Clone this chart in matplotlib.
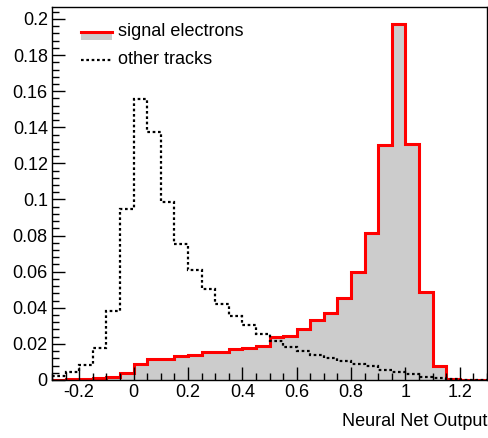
import numpy as np
import matplotlib
matplotlib.use("Agg")
import matplotlib.pyplot as plt
from matplotlib.patches import Rectangle
from matplotlib.lines import Line2D
from matplotlib.ticker import MultipleLocator

plt.rcParams['font.family'] = ['Liberation Sans', 'DejaVu Sans']

# ---- data ----
bin_edges = np.round(np.arange(-0.3, 1.3001, 0.05), 3)
signal_electrons = [0.0001, 0.0004, 0.0004, 0.0009, 0.0018, 0.0041,
                    0.0086, 0.0118, 0.0116, 0.0132, 0.0139, 0.0154,
                    0.0157, 0.0173, 0.0178, 0.0189, 0.0238, 0.0245,
                    0.0284, 0.0333, 0.0370, 0.0453, 0.0597, 0.0812,
                    0.1300, 0.1970, 0.1309, 0.0488, 0.0077, 0.0004,
                    0.0002, 0.0002]
other_tracks = [0.0024, 0.0043, 0.0083, 0.0176, 0.0385, 0.0947,
                0.1557, 0.1373, 0.0984, 0.0754, 0.0610, 0.0505,
                0.0421, 0.0357, 0.0303, 0.0253, 0.0216, 0.0184,
                0.0158, 0.0139, 0.0121, 0.0103, 0.0090, 0.0075,
                0.0058, 0.0043, 0.0031, 0.0018, 0.0009, 0.0004,
                0.0002, 0.0002]
x_ticks = [-0.2, 0.0, 0.2, 0.4, 0.6, 0.8, 1.0, 1.2]
x_tick_labels = ["-0.2", "0", "0.2", "0.4", "0.6", "0.8", "1", "1.2"]
y_ticks = [0.0, 0.02, 0.04, 0.06, 0.08, 0.1, 0.12, 0.14, 0.16, 0.18, 0.2]
y_tick_labels = ["0", "0.02", "0.04", "0.06", "0.08", "0.1", "0.12",
                 "0.14", "0.16", "0.18", "0.2"]
legend_labels = ["signal electrons", "other tracks"]
x_title = "Neural Net Output"

# ---- figure ----
W, H = 488, 438
fig = plt.figure(figsize=(W / 100, H / 100), dpi=100)
ax = fig.add_axes([52 / W, (H - 380) / H, 435 / W, 373.3 / H])

gray = "#cccccc"
ax.stairs(signal_electrons, bin_edges, fill=True, color=gray, linewidth=0)
ax.stairs(signal_electrons, bin_edges, color="#ff0000", linewidth=2.2,
          baseline=0)
ax.stairs(other_tracks, bin_edges, color="black", linewidth=1.6,
          linestyle=(0, (1.2, 1.2)), baseline=None)

ax.set_xlim(-0.3, 1.3)
ax.set_ylim(0, 0.2068)

ax.set_xticks(x_ticks)
ax.set_xticklabels(x_tick_labels)
ax.set_yticks(y_ticks)
ax.set_yticklabels(y_tick_labels)
ax.xaxis.set_minor_locator(MultipleLocator(0.05))
ax.yaxis.set_minor_locator(MultipleLocator(0.004))
ax.tick_params(which="both", direction="in", top=False, right=False,
               labelsize=13, width=1.0)
ax.tick_params(which="major", length=9.4, pad=3)
ax.tick_params(which="minor", length=4.7)
for s in ax.spines.values():
    s.set_linewidth(1.0)

ax.set_xlabel(x_title, loc="right", fontsize=13)
ax.xaxis.set_label_coords(1.0, -0.088)

# ---- legend (ROOT-style) ----
tr = ax.transAxes
ax.add_patch(Rectangle((0.0667, 0.911), 0.071, 0.022, transform=tr,
                       facecolor=gray, edgecolor="none", clip_on=False))
ax.add_line(Line2D([0.0667, 0.1377], [0.933, 0.933], transform=tr,
                   color="#ff0000", linewidth=2.2, clip_on=False))
ax.add_line(Line2D([0.0667, 0.1377], [0.857, 0.857], transform=tr,
                   color="black", linewidth=1.6, linestyle=(0, (1.2, 1.2)),
                   clip_on=False))
ax.text(0.152, 0.9215, legend_labels[0], transform=tr, fontsize=13,
        va="baseline", ha="left")
ax.text(0.152, 0.8457, legend_labels[1], transform=tr, fontsize=13,
        va="baseline", ha="left")

fig.savefig("out.png", dpi=100)
